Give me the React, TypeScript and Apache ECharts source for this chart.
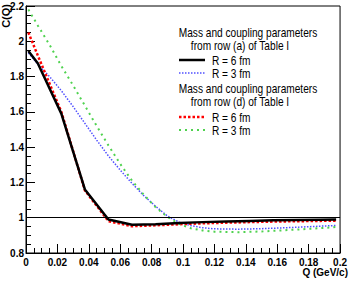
import React, { useEffect, useRef } from "react";
import * as echarts from "echarts";

// Momentum-difference grid (GeV/c) for the curves with few points
const qCoarse = [0.0015, 0.0075, 0.0225, 0.0375, 0.0525, 0.0675, 0.0825, 0.0975, 0.1125, 0.1275, 0.1425, 0.1575, 0.1725, 0.1875, 0.1975];
// Finer grid for the R = 3 fm curves
const qFine = [0.0015, 0.0075, 0.015, 0.0225, 0.03, 0.0375, 0.045, 0.0525, 0.06, 0.0675, 0.075, 0.0825, 0.09, 0.0975, 0.105, 0.1125, 0.12, 0.135, 0.15, 0.165, 0.18, 0.1975];

// Row (a), R = 6 fm
const rowA_R6 = [1.945, 1.875, 1.59, 1.16, 0.99, 0.96, 0.963, 0.97, 0.975, 0.979, 0.982, 0.985, 0.987, 0.989, 0.99];
// Row (d), R = 6 fm
const rowD_R6 = [2.05, 1.92, 1.6, 1.155, 0.98, 0.952, 0.957, 0.963, 0.968, 0.972, 0.975, 0.978, 0.98, 0.982, 0.983];
// Row (a), R = 3 fm
const rowA_R3 = [1.935, 1.87, 1.8, 1.72, 1.63, 1.535, 1.44, 1.35, 1.27, 1.195, 1.125, 1.065, 1.01, 0.975, 0.955, 0.943, 0.937, 0.935, 0.938, 0.943, 0.949, 0.956];
// Row (d), R = 3 fm
const rowD_R3 = [2.18, 2.09, 1.98, 1.86, 1.75, 1.635, 1.52, 1.41, 1.305, 1.21, 1.13, 1.06, 1.005, 0.965, 0.94, 0.928, 0.921, 0.918, 0.922, 0.929, 0.937, 0.947];

const legendHeader = "Mass and coupling parameters";
const legendRowA = "from row (a) of Table I";
const legendRowD = "from row (d) of Table I";
const labelR6 = "R = 6 fm";
const labelR3 = "R = 3 fm";

const FONT = "'Liberation Sans Narrow', 'Liberation Sans', Arial, sans-serif";

const pairs = (xs: number[], ys: number[]) => xs.map((x, i) => [x, ys[i]]);

export default function App() {
  const ref = useRef<HTMLDivElement>(null);

  useEffect(() => {
    document.body.style.margin = "0";
    const chart = echarts.init(ref.current!, undefined, { renderer: "svg" });

    const styles = {
      a6: { color: "#000000", width: 2.5, type: "solid" as any },
      a3: { color: "#5050ff", width: 1.5, type: [1.5, 1.5] as any },
      d6: { color: "#ff0000", width: 2.5, type: [2.5, 2] as any },
      d3: { color: "#4fd24f", width: 2, type: [2, 4] as any },
    };

    const lineSeries = (name: string, xs: number[], ys: number[], ls: any, extra: any = {}) => ({
      name,
      type: "line",
      data: pairs(xs, ys),
      showSymbol: false,
      symbol: "none",
      lineStyle: ls,
      z: 3,
      ...extra,
    });

    // condensed legend text, squeezed horizontally around its anchor
    const legendText = (text: string, x: number, y: number, align = "left") => ({
      type: "text",
      x,
      y,
      scaleX: 0.78,
      style: {
        text,
        fill: "#000",
        font: `13px ${FONT}`,
        textAlign: align,
        textVerticalAlign: "middle",
      },
    });

    const legendLine = (y: number, ls: any) => ({
      type: "line",
      shape: { x1: 179, y1: y, x2: 205, y2: y },
      style: {
        stroke: ls.color,
        lineWidth: ls.width,
        lineDash: ls.type === "solid" ? null : ls.type,
      },
    });

    chart.setOption({
      animation: false,
      grid: {
        left: 26,
        right: 2,
        top: 6,
        bottom: 30,
        show: true,
        borderColor: "#000",
        borderWidth: 1,
        backgroundColor: "transparent",
      },
      xAxis: {
        type: "value",
        min: 0,
        max: 0.2,
        interval: 0.02,
        axisLine: { show: true, onZero: false, lineStyle: { color: "#000", width: 1 } },
        axisTick: { show: true, inside: true, length: 9, lineStyle: { color: "#000" } },
        minorTick: { show: true, splitNumber: 4, length: 5, lineStyle: { color: "#000" } },
        splitLine: { show: false },
        axisLabel: {
          color: "#000",
          fontFamily: FONT,
          fontWeight: "bold",
          fontSize: 10,
          margin: 4,
          showMaxLabel: true,
          hideOverlap: false,
        },
      },
      yAxis: {
        type: "value",
        min: 0.8,
        max: 2.2,
        interval: 0.2,
        axisLine: { show: true, onZero: false, lineStyle: { color: "#000", width: 1 } },
        axisTick: { show: true, inside: true, length: 9, lineStyle: { color: "#000" } },
        minorTick: { show: true, splitNumber: 4, length: 5, lineStyle: { color: "#000" } },
        splitLine: { show: false },
        axisLabel: {
          color: "#000",
          fontFamily: FONT,
          fontWeight: "bold",
          fontSize: 10,
          margin: 2,
          showMaxLabel: true,
          hideOverlap: false,
        },
      },
      series: [
        lineSeries("a6", qCoarse, rowA_R6, styles.a6, {
          z: 4,
          markLine: {
            silent: true,
            symbol: "none",
            label: { show: false },
            lineStyle: { color: "#000", width: 1, type: "solid" },
            data: [{ yAxis: 1 }],
          },
        }),
        lineSeries("a3", qFine, rowA_R3, styles.a3),
        lineSeries("d6", qCoarse, rowD_R6, styles.d6),
        lineSeries("d3", qFine, rowD_R3, styles.d3),
      ],
      graphic: [
        {
          type: "text",
          x: 6,
          y: 4,
          rotation: Math.PI / 2,
          style: {
            text: "C(Q)",
            fill: "#000",
            font: `bold 11px ${FONT}`,
            textAlign: "right",
            textVerticalAlign: "middle",
          },
        },
        {
          type: "text",
          x: 348,
          y: 272,
          style: {
            text: "Q (GeV/c)",
            fill: "#000",
            font: `bold 10px ${FONT}`,
            textAlign: "right",
            textVerticalAlign: "middle",
          },
        },
        legendText(legendHeader, 248, 32, "center"),
        legendText(legendRowA, 240, 45, "center"),
        legendLine(60, styles.a6),
        legendText(labelR6, 212, 60),
        legendLine(73, styles.a3),
        legendText(labelR3, 212, 73),
        legendText(legendHeader, 248, 88, "center"),
        legendText(legendRowD, 240, 101, "center"),
        legendLine(117, styles.d6),
        legendText(labelR6, 212, 117),
        legendLine(130, styles.d3),
        legendText(labelR3, 212, 130),
      ],
    });

    return () => chart.dispose();
  }, []);

  return <div ref={ref} style={{ width: 350, height: 283 }} />;
}
